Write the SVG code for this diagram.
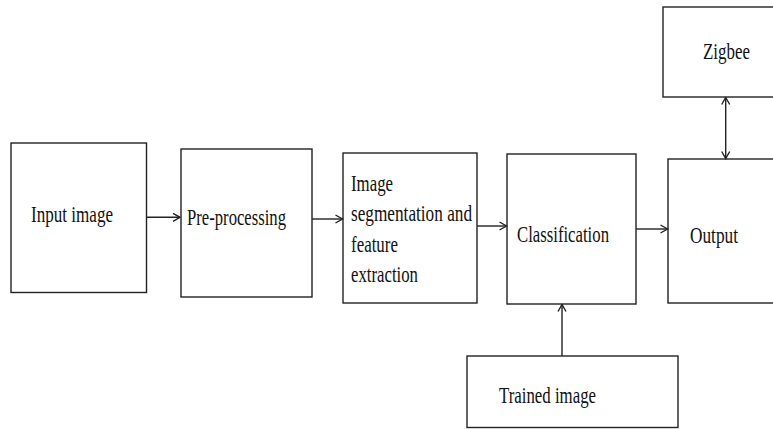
<svg xmlns="http://www.w3.org/2000/svg" width="773" height="429" viewBox="0 0 773 429">
<defs>
<style>
.box{fill:#fff;stroke:#222;stroke-width:1.4}
.lbl{font-family:"Liberation Serif","Times New Roman",serif;font-size:23px;fill:#111}
.con{stroke:#222;stroke-width:1.4;fill:none}
</style>
<marker id="ah" viewBox="0 0 10 10" refX="9" refY="5" markerWidth="10" markerHeight="10" markerUnits="userSpaceOnUse" orient="auto-start-reverse">
<path d="M2,1 L9,5 L2,9" fill="none" stroke="#222" stroke-width="1.4"/>
</marker>
</defs>
<rect width="773" height="429" fill="#fff"/>
<g id="input">
<rect class="box" x="11" y="143" width="135.5" height="149.5"/>
<text class="lbl" x="31" y="221.5" textLength="82" lengthAdjust="spacingAndGlyphs">Input image</text>
</g>
<g id="preprocessing">
<rect class="box" x="181" y="149" width="131" height="148"/>
<text class="lbl" x="187" y="224.5" textLength="99" lengthAdjust="spacingAndGlyphs">Pre-processing</text>
</g>
<g id="segmentation">
<rect class="box" x="343" y="153" width="134" height="150"/>
<text class="lbl" x="351" y="190.5" textLength="42" lengthAdjust="spacingAndGlyphs">Image</text>
<text class="lbl" x="351" y="220.5" textLength="121" lengthAdjust="spacingAndGlyphs">segmentation and</text>
<text class="lbl" x="351" y="251.5" textLength="47" lengthAdjust="spacingAndGlyphs">feature</text>
<text class="lbl" x="351" y="282" textLength="67" lengthAdjust="spacingAndGlyphs">extraction</text>
</g>
<g id="classification">
<rect class="box" x="507" y="154" width="129" height="150"/>
<text class="lbl" x="517" y="242" textLength="92" lengthAdjust="spacingAndGlyphs">Classification</text>
</g>
<g id="output">
<rect class="box" x="668" y="159" width="115" height="144"/>
<text class="lbl" x="690" y="243" textLength="48" lengthAdjust="spacingAndGlyphs">Output</text>
</g>
<g id="zigbee">
<rect class="box" x="663" y="7" width="120" height="90"/>
<text class="lbl" x="703" y="59" textLength="47" lengthAdjust="spacingAndGlyphs">Zigbee</text>
</g>
<g id="trained">
<rect class="box" x="467" y="356" width="211" height="71.5"/>
<text class="lbl" x="499" y="403" textLength="97" lengthAdjust="spacingAndGlyphs">Trained image</text>
</g>
<g id="connectors">
<line class="con" x1="146.5" y1="217.3" x2="180" y2="217.3" marker-end="url(#ah)"/>
<line class="con" x1="312" y1="219" x2="342.5" y2="219" marker-end="url(#ah)"/>
<line class="con" x1="477" y1="226" x2="506.5" y2="226" marker-end="url(#ah)"/>
<line class="con" x1="636" y1="229" x2="667.5" y2="229" marker-end="url(#ah)"/>
<line class="con" x1="725.7" y1="97.5" x2="725.7" y2="158.5" marker-start="url(#ah)" marker-end="url(#ah)"/>
<line class="con" x1="562" y1="356" x2="562" y2="304.5" marker-end="url(#ah)"/>
</g>
</svg>
